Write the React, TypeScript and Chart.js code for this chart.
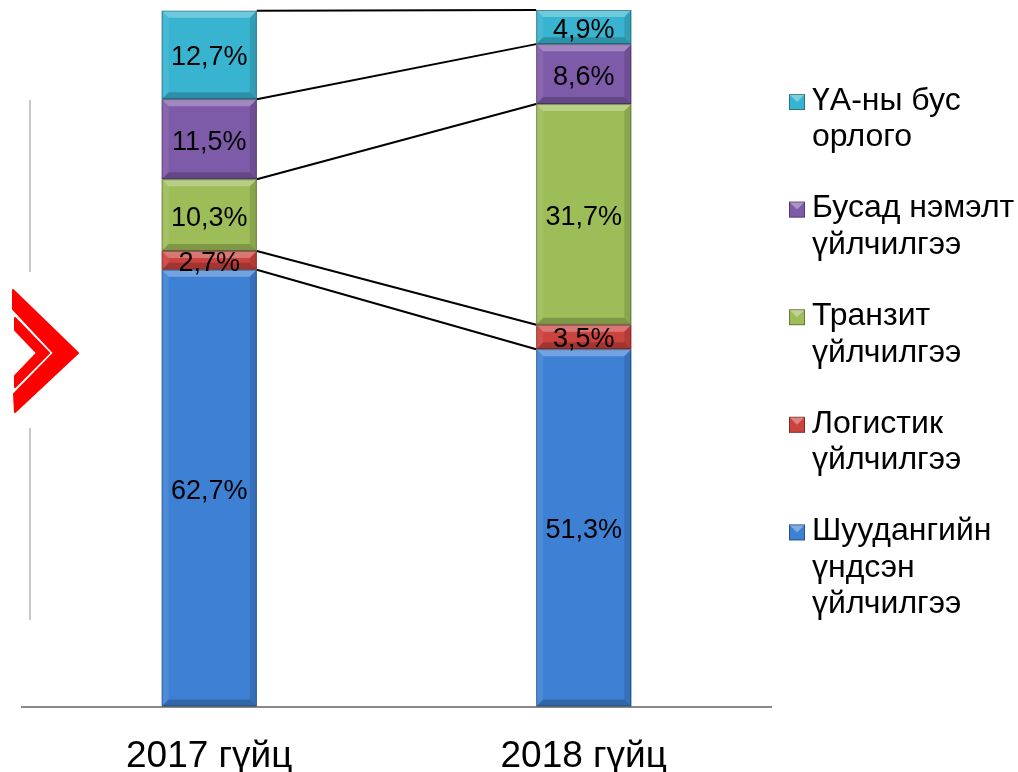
import React, { useEffect, useRef } from "react";
import { Chart, registerables } from "chart.js";

Chart.register(...registerables);

// ---- data ----
const categories = ["2017 гүйц", "2018 гүйц"];
const seriesNames = [
  "Шуудангийн үндсэн үйлчилгээ",
  "Логистик үйлчилгээ",
  "Транзит үйлчилгээ",
  "Бусад нэмэлт үйлчилгээ",
  "ҮА-ны бус орлого",
];
const legendLines = [
  ["Шуудангийн", "үндсэн", "үйлчилгээ"],
  ["Логистик", "үйлчилгээ"],
  ["Транзит", "үйлчилгээ"],
  ["Бусад нэмэлт", "үйлчилгээ"],
  ["ҮА-ны бус", "орлого"],
];
const mainService = [62.7, 51.3];
const logistics = [2.7, 3.5];
const transit = [10.3, 31.7];
const otherServices = [11.5, 8.6];
const nonCore = [12.7, 4.9];
const seriesValues = [mainService, logistics, transit, otherServices, nonCore];
const seriesColors = ["#3E80D4", "#CB433F", "#9DBD58", "#7E5BA8", "#38B4D0"];

const FONT = "'Liberation Sans', Arial, sans-serif";

const fmt = (v: number) => v.toFixed(1).replace(".", ",") + "%";

const decorPlugin = {
  id: "decor",
  beforeDraw(chart: any) {
    const ctx = chart.ctx;
    ctx.save();
    ctx.strokeStyle = "#c8c8c8";
    ctx.lineWidth = 2;
    ctx.beginPath();
    ctx.moveTo(30, 100);
    ctx.lineTo(30, 272);
    ctx.moveTo(30, 428);
    ctx.lineTo(30, 620);
    ctx.stroke();
    ctx.fillStyle = "#ff0000";
    ctx.strokeStyle = "#ff0000";
    ctx.lineJoin = "round";
    ctx.lineWidth = 2;
    ctx.beginPath();
    ctx.moveTo(13, 290);
    ctx.lineTo(78, 353);
    ctx.lineTo(15, 412);
    ctx.lineTo(14, 394);
    ctx.lineTo(54, 353);
    ctx.lineTo(13, 309);
    ctx.closePath();
    ctx.fill();
    ctx.stroke();
    ctx.beginPath();
    ctx.moveTo(15, 318);
    ctx.lineTo(49, 353);
    ctx.lineTo(15, 387);
    ctx.lineTo(15, 376);
    ctx.lineTo(37, 353);
    ctx.lineTo(15, 330);
    ctx.closePath();
    ctx.fill();
    ctx.stroke();
    ctx.restore();
  },
};

const barsPlugin = {
  id: "barsExtra",
  afterDatasetsDraw(chart: any) {
    const ctx = chart.ctx;
    const yScale = chart.scales.y;
    ctx.save();
    chart.data.datasets.forEach((ds: any, di: number) => {
      const meta = chart.getDatasetMeta(di);
      meta.data.forEach((el: any) => {
        const l = el.x - el.width / 2;
        const r = el.x + el.width / 2;
        const t = Math.min(el.y, el.base);
        const b = Math.max(el.y, el.base);
        const bv = Math.min(7, (b - t) / 2);
        const poly = (pts: number[][], color: string) => {
          ctx.fillStyle = color;
          ctx.beginPath();
          ctx.moveTo(pts[0][0], pts[0][1]);
          for (let i = 1; i < pts.length; i++) ctx.lineTo(pts[i][0], pts[i][1]);
          ctx.closePath();
          ctx.fill();
        };
        poly([[l, t], [r, t], [r - bv, t + bv], [l + bv, t + bv]], "rgba(255,255,255,0.28)");
        poly([[l, t], [l + bv, t + bv], [l + bv, b - bv], [l, b]], "rgba(255,255,255,0.08)");
        poly([[r, t], [r, b], [r - bv, b - bv], [r - bv, t + bv]], "rgba(0,0,0,0.12)");
        poly([[l, b], [l + bv, b - bv], [r - bv, b - bv], [r, b]], "rgba(0,0,0,0.2)");
        ctx.strokeStyle = "rgba(0,0,0,0.3)";
        ctx.lineWidth = 1;
        ctx.strokeRect(l + 0.5, t + 0.5, r - l - 1, b - t - 1);
      });
    });
    const m0 = chart.getDatasetMeta(0).data;
    const xRight = m0[0].x + m0[0].width / 2;
    const xLeft = m0[1].x - m0[1].width / 2;
    let c0 = 0;
    let c1 = 0;
    ctx.strokeStyle = "#000";
    ctx.lineWidth = 2;
    seriesValues.forEach((vals) => {
      c0 += vals[0];
      c1 += vals[1];
      ctx.beginPath();
      ctx.moveTo(xRight, yScale.getPixelForValue(c0));
      ctx.lineTo(xLeft, yScale.getPixelForValue(c1));
      ctx.stroke();
    });
    ctx.fillStyle = "#000";
    ctx.font = `27px ${FONT}`;
    ctx.textAlign = "center";
    ctx.textBaseline = "middle";
    chart.data.datasets.forEach((ds: any, di: number) => {
      const meta = chart.getDatasetMeta(di);
      meta.data.forEach((el: any, i: number) => {
        ctx.fillText(fmt(ds.data[i]), el.x, (el.y + el.base) / 2 + 3);
      });
    });
    ctx.restore();
  },
};

const legendPlugin = {
  id: "customLegend",
  afterDraw(chart: any) {
    const ctx = chart.ctx;
    ctx.save();
    ctx.font = `32px ${FONT}`;
    ctx.textBaseline = "middle";
    ctx.textAlign = "left";
    const order = [4, 3, 2, 1, 0];
    order.forEach((si, k) => {
      const y0 = 101 + k * 107.6;
      const color = seriesColors[si];
      const mx = 789;
      const my = y0 - 7;
      ctx.fillStyle = color;
      ctx.fillRect(mx, my, 16, 16);
      ctx.fillStyle = "rgba(255,255,255,0.35)";
      ctx.beginPath();
      ctx.moveTo(mx, my);
      ctx.lineTo(mx + 16, my);
      ctx.lineTo(mx + 8, my + 8);
      ctx.closePath();
      ctx.fill();
      ctx.strokeStyle = "rgba(0,0,0,0.35)";
      ctx.lineWidth = 1;
      ctx.strokeRect(mx + 0.5, my + 0.5, 15, 15);
      ctx.fillStyle = "#000";
      legendLines[si].forEach((line, j) => {
        ctx.fillText(line, 812, y0 + j * 36.5);
      });
    });
    ctx.restore();
  },
};

export default function App() {
  const ref = useRef<HTMLCanvasElement | null>(null);
  useEffect(() => {
    if (!ref.current) return;
    const chart = new Chart(ref.current, {
      type: "bar",
      data: {
        labels: categories,
        datasets: seriesValues.map((vals, i) => ({
          label: seriesNames[i],
          data: vals,
          backgroundColor: seriesColors[i],
          borderWidth: 0,
          barPercentage: 1,
          categoryPercentage: 0.254,
        })),
      },
      options: {
        responsive: true,
        maintainAspectRatio: false,
        animation: false,
        layout: { padding: { left: 22, right: 247, top: 10, bottom: 0 } },
        plugins: {
          legend: { display: false },
          tooltip: { enabled: false },
        },
        scales: {
          x: {
            stacked: true,
            grid: { display: false, drawTicks: false },
            border: { display: true, color: "#888888", width: 2 },
            ticks: {
              color: "#000",
              font: { family: FONT, size: 37 },
              padding: 28,
            },
            afterFit: (axis: any) => {
              axis.height = 65.5;
            },
          },
          y: {
            stacked: true,
            display: false,
            min: 0,
            max: 100,
          },
        },
      },
      plugins: [decorPlugin, barsPlugin, legendPlugin],
    });
    return () => chart.destroy();
  }, []);
  return (
    <div style={{ position: "fixed", left: 0, top: 0, width: 1018, height: 772, background: "#fff" }}>
      <canvas ref={ref} />
    </div>
  );
}
